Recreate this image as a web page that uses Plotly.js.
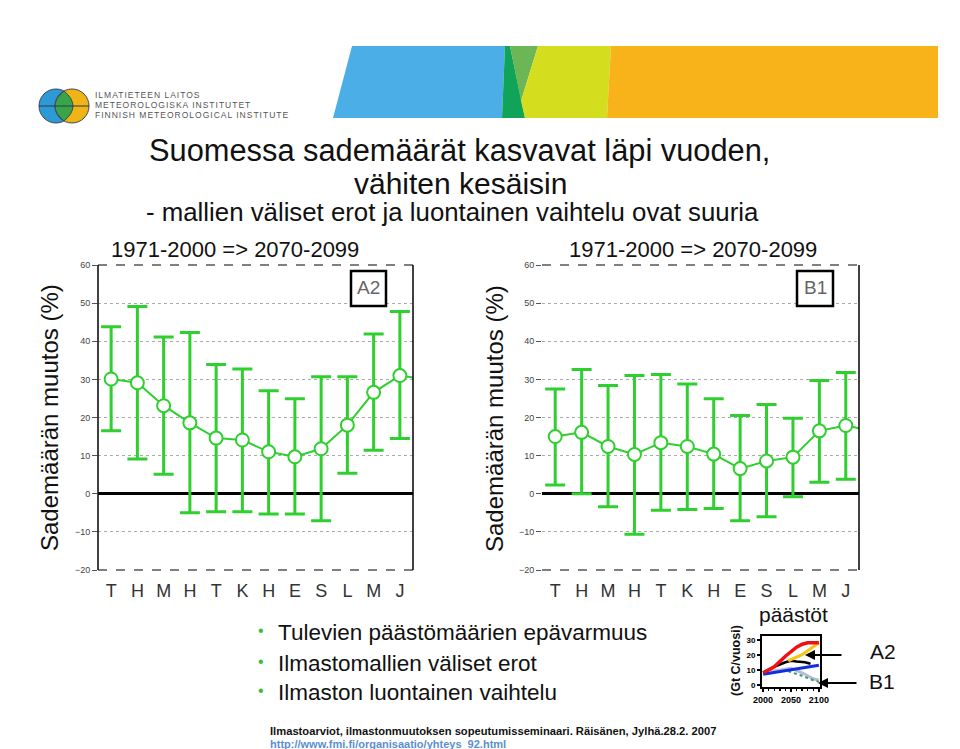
<!DOCTYPE html>
<html>
<head>
<meta charset="utf-8">
<script src="https://cdn.plot.ly/plotly-3.0.1.min.js"></script>
<style>
html,body{margin:0;padding:0;background:#fff;}
#chart{width:960px;height:749px;}
</style>
</head>
<body>
<div id="chart"></div>
<script>
// ---------- DATA ----------
const months = ["T","H","M","H","T","K","H","E","S","L","M","J"];
const a2Mean = [30.1, 29.1, 23.1, 18.6, 14.6, 14.1, 11.0, 9.7, 11.8, 18.0, 26.6, 31.0];
const a2High = [43.8, 49.1, 41.1, 42.3, 33.9, 32.7, 27.0, 24.9, 30.7, 30.7, 41.9, 47.8];
const a2Low  = [16.5, 9.1, 5.1, -5.0, -4.7, -4.7, -5.3, -5.3, -7.1, 5.4, 11.4, 14.5];
const a2Edge = 30.5;
const b1Mean = [15.0, 16.1, 12.4, 10.3, 13.4, 12.4, 10.4, 6.6, 8.6, 9.6, 16.5, 17.9];
const b1High = [27.5, 32.6, 28.4, 31.0, 31.3, 28.8, 24.9, 20.5, 23.4, 19.8, 29.7, 31.8];
const b1Low  = [2.3, 0.0, -3.4, -10.6, -4.3, -4.1, -3.9, -7.1, -6.0, -0.8, 3.0, 3.8];
const b1Edge = 17.2;
const yTicks = [-20, -10, 0, 10, 20, 30, 40, 50, 60];
const yTickText = ["\u221220", "\u221210", "0", "10", "20", "30", "40", "50", "60"];

// emissions inset (Gt C / vuosi)
const emisRedYears = [2000, 2020, 2040, 2060, 2070, 2080, 2100];
const emisRed      = [8, 12, 19, 25, 27, 28, 28];
const emisYellowYears = [2045, 2070, 2100];
const emisYellow      = [16, 20, 28];
const emisBlackYears = [2000, 2020, 2040, 2050, 2060, 2075, 2085];
const emisBlack      = [8, 12, 15, 16, 15.5, 15, 14];
const emisBlueYears = [2000, 2025, 2050, 2075, 2100];
const emisBlue      = [7, 8.5, 10, 12, 13];
const emisGrayYears = [2000, 2030, 2050, 2070, 2090, 2100];
const emisGray      = [8, 10, 11, 8, 4, 3];
const emisTealYears = [2045, 2070, 2090, 2100];
const emisTeal      = [9, 6, 3, 2];
const emisXTicks = [2000, 2050, 2100];
const emisYTicks = [0, 10, 20, 30];

// ---------- HELPERS ----------
const W = 960, H = 749;
const X = p => p / W;
const Y = p => 1 - p / H;
const GREEN = '#2fcf2f';
const FONT = 'Liberation Sans, Arial, sans-serif';
const idx = months.map((_, i) => i);

function seriesTraces(mean, hi, lo, edge, xa, ya) {
  return [
    {
      x: [11, 11.5], y: [mean[11], edge], xaxis: xa, yaxis: ya,
      mode: 'lines', line: {color: GREEN, width: 2}, hoverinfo: 'skip', showlegend: false
    },
    {
      x: idx, y: mean, xaxis: xa, yaxis: ya, mode: 'lines+markers',
      line: {color: GREEN, width: 2},
      marker: {symbol: 'circle', size: 13, color: '#ffffff', line: {color: GREEN, width: 2}},
      error_y: {type: 'data', symmetric: false,
        array: hi.map((h, i) => h - mean[i]),
        arrayminus: lo.map((l, i) => mean[i] - l),
        color: GREEN, thickness: 3, width: 10},
      showlegend: false
    }
  ];
}

const traces = [
  ...seriesTraces(a2Mean, a2High, a2Low, a2Edge, 'x', 'y'),
  ...seriesTraces(b1Mean, b1High, b1Low, b1Edge, 'x2', 'y2'),
  {x: emisGrayYears, y: emisGray, xaxis: 'x3', yaxis: 'y3', mode: 'lines', line: {color: '#b8bcd8', width: 3}, showlegend: false},
  {x: emisTealYears, y: emisTeal, xaxis: 'x3', yaxis: 'y3', mode: 'lines', line: {color: '#3a9a6a', width: 2, dash: 'dot'}, showlegend: false},
  {x: emisBlueYears, y: emisBlue, xaxis: 'x3', yaxis: 'y3', mode: 'lines', line: {color: '#1030e0', width: 3}, showlegend: false},
  {x: emisBlackYears, y: emisBlack, xaxis: 'x3', yaxis: 'y3', mode: 'lines', line: {color: '#000000', width: 2.5}, showlegend: false},
  {x: emisYellowYears, y: emisYellow, xaxis: 'x3', yaxis: 'y3', mode: 'lines', line: {color: '#f5c518', width: 3}, showlegend: false},
  {x: emisRedYears, y: emisRed, xaxis: 'x3', yaxis: 'y3', mode: 'lines', line: {color: '#ee1111', width: 3.5}, showlegend: false}
];

function monthAxis(dom) {
  return {
    domain: dom, range: [-0.5, 11.5], tickmode: 'array', tickvals: idx, ticktext: months,
    showgrid: false, zeroline: false, showline: false, ticks: '',
    tickfont: {family: FONT, size: 18, color: '#333'}, ticklabelstandoff: 8, fixedrange: true
  };
}
function valueAxis(anchor) {
  return {
    domain: [Y(570), Y(265)], range: [-20, 60], anchor: anchor,
    tickmode: 'array', tickvals: yTicks, ticktext: yTickText,
    ticks: 'outside', ticklen: 5, tickcolor: '#555', tickwidth: 1,
    tickfont: {family: FONT, size: 9, color: '#444'},
    showgrid: true, gridcolor: '#aaaaaa', griddash: 'dot', gridwidth: 1,
    zeroline: true, zerolinecolor: '#000', zerolinewidth: 3, showline: false, fixedrange: true
  };
}

const shapes = [];
function poly(pts, color) {
  const d = 'M' + pts.map(p => X(p[0]) + ',' + Y(p[1])).join(' L') + ' Z';
  shapes.push({type: 'path', xref: 'paper', yref: 'paper', path: d, fillcolor: color, line: {width: 0}, layer: 'below'});
}
// banner
poly([[333,118],[352,46],[505,46],[502,118]], '#4caee6');
poly([[502,118],[505,46],[510,46],[525,118]], '#10a35a');
poly([[510,46],[538,46],[521,101]], '#6cb655');
poly([[525,118],[521,101],[538,46],[611,46],[607,118]], '#d5de1e');
poly([[607,118],[611,46],[938,46],[938,118]], '#f8b21a');
// logo
function circ(cx, cy, r, color) {
  shapes.push({type: 'circle', xref: 'paper', yref: 'paper', x0: X(cx - r), x1: X(cx + r), y0: Y(cy + r), y1: Y(cy - r),
    fillcolor: color, line: {color: '#3a4a5a', width: 1}});
}
circ(56, 106, 17, '#2d9ad6');
circ(72, 106, 17, '#f0b416');
shapes.push({type: 'path', xref: 'paper', yref: 'paper',
  path: `M${X(64)},${Y(91)} Q${X(46)},${Y(106)} ${X(64)},${Y(121)} Q${X(82)},${Y(106)} ${X(64)},${Y(91)} Z`,
  fillcolor: '#3aa44a', line: {color: '#3a4a5a', width: 1}});
shapes.push({type: 'line', xref: 'paper', yref: 'paper', x0: X(39), x1: X(89), y0: Y(106), y1: Y(106), line: {color: '#2a3a4a', width: 1}});

// chart frames
function frame(xa, ya, leftBorder) {
  const xd = xa + ' domain', yd = ya + ' domain';
  shapes.push({type: 'line', xref: xd, yref: yd, x0: 0, x1: 1, y0: 1, y1: 1, line: {color: '#000', width: 1, dash: 'dash'}});
  shapes.push({type: 'line', xref: xd, yref: yd, x0: 0, x1: 1, y0: 0, y1: 0, line: {color: '#000', width: 1, dash: 'dash'}});
  shapes.push({type: 'line', xref: xd, yref: yd, x0: 1, x1: 1, y0: 0, y1: 1, line: {color: '#000', width: 1.5}});
  if (leftBorder) shapes.push({type: 'line', xref: xd, yref: yd, x0: 0, x1: 0, y0: 0, y1: 1, line: {color: '#000', width: 1.5}});
}
frame('x', 'y', true);
frame('x2', 'y2', false);
// scenario boxes
function box(x0, y0, x1, y1) {
  shapes.push({type: 'rect', xref: 'paper', yref: 'paper', x0: X(x0), x1: X(x1), y0: Y(y1), y1: Y(y0),
    fillcolor: '#fff', line: {color: '#000', width: 2.5}});
}
box(351, 271, 386, 306);
box(797, 271, 833, 306);

const ann = [];
function txt(text, x, y, size, opts) {
  ann.push(Object.assign({text: text, xref: 'paper', yref: 'paper', x: X(x), y: Y(y), showarrow: false,
    xanchor: 'center', yanchor: 'middle', font: {family: FONT, size: size, color: '#111'}}, opts || {}));
}
// logo text
const logoFont = {family: FONT, size: 8.5, color: '#555'};
const sp = s => '<span style="letter-spacing:1px">' + s + '</span>';
txt(sp('ILMATIETEEN LAITOS'), 93, 95, 8.5, {xanchor: 'left', font: logoFont});
txt(sp('METEOROLOGISKA INSTITUTET'), 93, 105, 8.5, {xanchor: 'left', font: logoFont});
txt(sp('FINNISH METEOROLOGICAL INSTITUTE'), 93, 115, 8.5, {xanchor: 'left', font: logoFont});
// titles
txt('Suomessa sademäärät kasvavat läpi vuoden,', 459, 151, 30.8);
txt('vähiten kesäisin', 460, 183, 30);
txt('- mallien väliset erot ja luontainen vaihtelu ovat suuria', 452, 212, 25.8);
txt('1971-2000 => 2070-2099', 235, 249, 22);
txt('1971-2000 => 2070-2099', 693, 249, 22);
txt('Sademäärän muutos (%)', 49, 418, 24, {textangle: -90});
txt('Sademäärän muutos (%)', 494, 418, 24, {textangle: -90});
txt('A2', 368, 288, 19, {font: {family: FONT, size: 19, color: '#666'}});
txt('B1', 815, 288, 19, {font: {family: FONT, size: 19, color: '#666'}});
// bullets
const bullets = ['Tulevien päästömäärien epävarmuus', 'Ilmastomallien väliset erot', 'Ilmaston luontainen vaihtelu'];
const by = [632, 663, 692];
bullets.forEach((b, i) => {
  txt('\u2022', 261, by[i] - 2, 16, {font: {family: FONT, size: 16, color: '#3dbb3d'}});
  txt(b, 276, by[i], 22.5, {xanchor: 'left'});
});
// inset
txt('päästöt', 793, 614, 21);
txt('<b>(Gt C/vuosi)</b>', 736, 661, 12.5, {textangle: -90});
txt('A2', 883, 651, 21);
txt('B1', 882, 681, 21);
ann.push({xref: 'paper', yref: 'paper', x: X(805), y: Y(655), ax: 38, ay: 0, text: '', showarrow: true,
  arrowhead: 2, arrowsize: 1, arrowwidth: 2, arrowcolor: '#000'});
ann.push({xref: 'paper', yref: 'paper', x: X(818), y: Y(683), ax: 40, ay: 0, text: '', showarrow: true,
  arrowhead: 2, arrowsize: 1, arrowwidth: 2, arrowcolor: '#000'});
// footer
txt('<b>Ilmastoarviot, ilmastonmuutoksen sopeutumisseminaari. Räisänen, Jylhä.28.2. 2007</b>', 268, 731, 11.2, {xanchor: 'left'});
txt('<b><u>http://www.fmi.fi/organisaatio/yhteys_92.html</u></b>', 268, 744, 11, {xanchor: 'left', font: {family: FONT, size: 11, color: '#5b8fd0'}});

const layout = {
  width: W, height: H, margin: {l: 0, r: 0, t: 0, b: 0},
  paper_bgcolor: '#fff', plot_bgcolor: 'rgba(0,0,0,0)',
  font: {family: FONT},
  showlegend: false,
  xaxis: Object.assign(monthAxis([X(98), X(413)]), {anchor: 'y'}),
  yaxis: valueAxis('x'),
  xaxis2: Object.assign(monthAxis([X(542), X(859)]), {anchor: 'y2'}),
  yaxis2: valueAxis('x2'),
  xaxis3: {domain: [X(762), X(820)], range: [1998, 2102], anchor: 'y3', tickmode: 'array', tickvals: emisXTicks,
    ticks: 'outside', ticklen: 3, tickwidth: 1.5, tickcolor: '#000',
    minor: {tickmode: 'linear', dtick: 10, ticks: 'outside', ticklen: 2, tickcolor: '#000'},
    tickfont: {family: FONT, size: 9, color: '#000', weight: 'bold'},
    showline: true, mirror: true, linecolor: '#000', linewidth: 2, showgrid: false, zeroline: false, fixedrange: true},
  yaxis3: {domain: [Y(687), Y(636)], range: [-1.5, 32.5], anchor: 'x3', tickmode: 'array', tickvals: emisYTicks,
    ticks: 'outside', ticklen: 3, tickwidth: 1.5, tickcolor: '#000',
    tickfont: {family: FONT, size: 8, color: '#000', weight: 'bold'},
    showline: true, mirror: true, linecolor: '#000', linewidth: 2, showgrid: false, zeroline: false, fixedrange: true},
  shapes: shapes,
  annotations: ann
};

Plotly.newPlot('chart', traces, layout, {staticPlot: true, displayModeBar: false});
</script>
</body>
</html>
